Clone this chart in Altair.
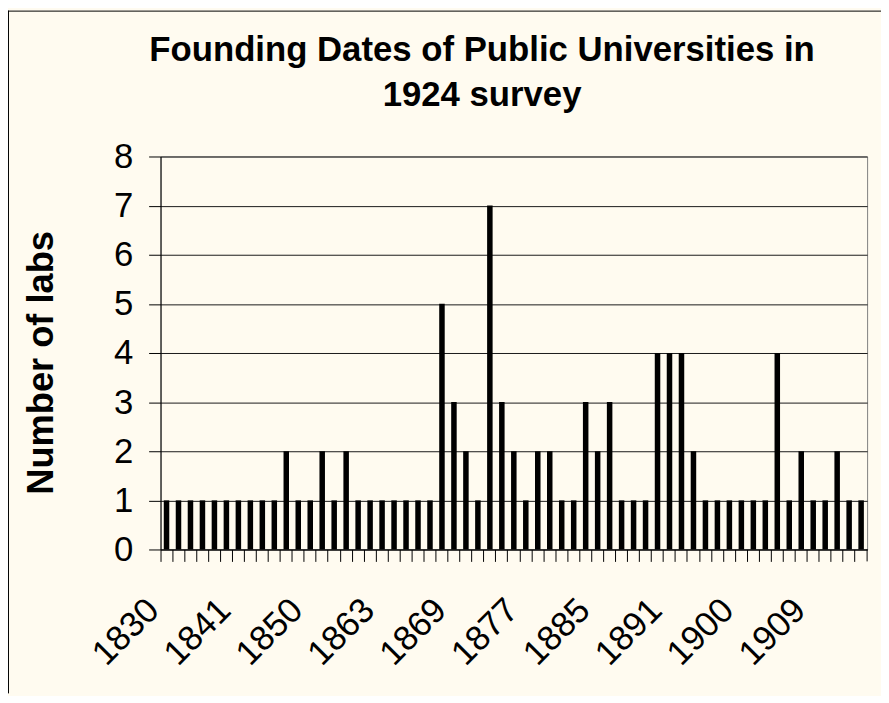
import altair as alt
import pandas as pd

# Founding years (categories on the x axis) and number of labs per year
years = [
    "1830", "1832", "1834", "1836", "1838", "1839",
    "1841", "1842", "1844", "1845", "1846", "1848",
    "1850", "1851", "1853", "1855", "1857", "1860",
    "1863", "1864", "1865", "1866", "1867", "1868",
    "1869", "1870", "1871", "1872", "1873", "1874",
    "1877", "1878", "1879", "1881", "1882", "1883",
    "1885", "1886", "1887", "1888", "1889", "1890",
    "1891", "1892", "1893", "1895", "1896", "1897",
    "1900", "1901", "1903", "1905", "1906", "1907",
    "1909", "1910", "1911", "1912", "1913",
]
counts = [
    1, 1, 1, 1, 1, 1,
    1, 1, 1, 1, 2, 1,
    1, 2, 1, 2, 1, 1,
    1, 1, 1, 1, 1, 5,
    3, 2, 1, 7, 3, 2,
    1, 2, 2, 1, 1, 3,
    2, 3, 1, 1, 1, 4,
    4, 4, 2, 1, 1, 1,
    1, 1, 1, 4, 1, 2,
    1, 1, 2, 1, 1,
]
shown_labels = ["1830", "1841", "1850", "1863", "1869", "1877", "1885", "1891", "1900", "1909"]
y_ticks = [0, 1, 2, 3, 4, 5, 6, 7, 8]

df = pd.DataFrame({"Year": years, "Count": counts})

FONT = "Liberation Sans"
BG = "#FFFBF0"
W, H = 712, 396
PAD = {"left": 153.7, "top": 147, "right": 14, "bottom": 145}

label_list = ",".join("'" + s + "'" for s in shown_labels)
label_expr = f"indexof([{label_list}], datum.label) >= 0 ? datum.label : ''"

x_enc = alt.X(
    "Year:O",
    sort=years,
    scale=alt.Scale(paddingInner=0, paddingOuter=0),
    axis=alt.Axis(
        title=None,
        bandPosition=0,
        labelOffset=-13.5,
        tickSize=12,
        tickColor="black",
        domainColor="black",
        labelAngle=-45,
        labelAlign="right",
        labelBaseline="middle",
        labelPadding=43,
        labelFont=FONT,
        labelFontSize=35,
        labelColor="black",
        labelExpr=label_expr,
        labelOverlap=False,
        labelBound=False,
        labelFlush=False,
        grid=False,
    ),
)

y_enc = alt.Y(
    "Count:Q",
    scale=alt.Scale(domain=[0, 8], nice=False),
    axis=alt.Axis(
        title="Number of labs",
        values=y_ticks,
        grid=True,
        gridColor="#1a1a1a",
        gridWidth=1,
        tickSize=12,
        tickColor="black",
        domainColor="black",
        labelFont=FONT,
        labelFontSize=35,
        labelColor="black",
        labelPadding=16,
        titleFont=FONT,
        titleFontSize=36.5,
        titleFontWeight="bold",
        titleColor="black",
        titleAngle=270,
        titleAlign="center",
        titleBaseline="alphabetic",
        titleX=-108.4,
        titleY=207.5,
    ),
)

bars = alt.Chart(df).mark_bar(
    color="black", width=alt.RelativeBandSize(0.46)
).encode(x=x_enc, y=y_enc)

deco = alt.Data(values=[{"k": 1}])

end_tick = alt.Chart(deco).mark_rule(color="black", strokeWidth=1).encode(
    x=alt.value(W), y=alt.value(H), y2=alt.value(H + 12)
)
left_border = alt.Chart(deco).mark_rule(color="black", strokeWidth=1).encode(
    x=alt.value(-PAD["left"] + 0.5), y=alt.value(-PAD["top"]), y2=alt.value(H + PAD["bottom"])
)
top_border = alt.Chart(deco).mark_rule(color="black", strokeWidth=1).encode(
    x=alt.value(-PAD["left"]), x2=alt.value(W + PAD["right"]), y=alt.value(-PAD["top"] + 0.5)
)

chart = (
    alt.layer(bars, end_tick, left_border, top_border)
    .properties(
        width=W,
        height=H,
        padding=PAD,
        autosize=alt.AutoSizeParams(type="none"),
        background=BG,
        title=alt.TitleParams(
            text=["Founding Dates of Public Universities in", "1924 survey"],
            font=FONT,
            fontSize=35,
            fontWeight="bold",
            color="black",
            anchor="middle",
            lineHeight=46,
            dx=-32,
            dy=130,
            offset=26,
        ),
    )
    .configure_view(stroke="#808080")
)

chart.save("out.html", embed_options={"renderer": "svg", "actions": False})
